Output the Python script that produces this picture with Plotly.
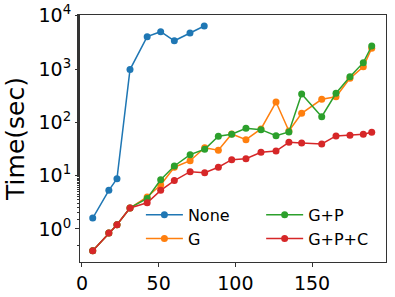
import plotly.graph_objects as go

x_none = [7, 17.5, 22.8, 31.3, 42.5, 51.3, 60.2, 70.4, 79.7]
y_none = [1.6, 5.3, 8.8, 980, 4060, 5030, 3400, 4750, 6430]

x_all = [7, 17.5, 22.8, 31.3, 42.5, 51.3, 60.2, 70.5, 80, 88.9, 97.6, 106.9, 116.7, 126.5, 134.9, 143.2, 156.3, 165.6, 174.7, 183.4, 188.9]
y_g = [0.39, 0.84, 1.2, 2.48, 4.0, 6.7, 14.4, 19.1, 33.5, 30, 60.6, 47.3, 75.2, 241, 69, 148, 271, 303, 671, 1109, 2456]
y_gp = [0.39, 0.84, 1.2, 2.48, 3.73, 8.4, 15.2, 24.8, 31.3, 54.9, 59.8, 77.5, 73, 56.3, 66, 341, 128, 352, 720, 1319, 2713]
y_gpc = [0.39, 0.84, 1.2, 2.48, 3.1, 5.3, 8.1, 11.9, 11.4, 14.4, 20, 20.8, 27.5, 29, 42.3, 41, 39.3, 55.6, 57.3, 59.8, 65.2]

y_tickvals = [1, 10, 100, 1000, 10000]
y_ticktext = ["10<sup>0</sup>", "10<sup>1</sup>", "10<sup>2</sup>", "10<sup>3</sup>", "10<sup>4</sup>"]
x_tickvals = [0, 50, 100, 150]

series = [
    ("None", x_none, y_none, "#1f77b4", "legend"),
    ("G", x_all, y_g, "#ff7f0e", "legend"),
    ("G+P", x_all, y_gp, "#2ca02c", "legend2"),
    ("G+P+C", x_all, y_gpc, "#d62728", "legend2"),
]

fig = go.Figure()
for name, xs, ys, col, lg in series:
    fig.add_trace(go.Scatter(
        x=xs, y=ys, name=name, mode="lines+markers",
        line=dict(color=col, width=1.5),
        marker=dict(color=col, size=7),
        legend=lg,
    ))

font = dict(family="DejaVu Sans", color="black")
leg_common = dict(
    font=dict(family="DejaVu Sans", size=16, color="black"),
    bgcolor="rgba(0,0,0,0)", borderwidth=0,
    xanchor="left", yanchor="top", tracegroupgap=0,
    itemwidth=37,
)
fig.update_layout(
    width=395, height=297,
    margin=dict(l=80, r=9, t=15, b=35),
    paper_bgcolor="white", plot_bgcolor="white",
    font=font,
    legend=dict(x=0.199, y=0.26, **leg_common),
    legend2=dict(x=0.592, y=0.26, **leg_common),
    xaxis=dict(
        range=[-1.3, 198.2], tickvals=x_tickvals, automargin=False,
        showgrid=False, zeroline=False,
        showline=True, mirror=True, linecolor="#333", linewidth=1,
        ticks="outside", ticklen=4, tickcolor="#333",
        tickfont=dict(family="DejaVu Sans", size=19, color="black"),
    ),
    yaxis=dict(
        type="log", range=[-0.62, 4.015], automargin=False,
        tickvals=y_tickvals, ticktext=y_ticktext,
        showgrid=False, zeroline=False,
        showline=True, mirror=True, linecolor="#333", linewidth=1,
        ticks="outside", ticklen=4, tickcolor="#333",
        minor=dict(ticks="outside", ticklen=2.5, tickcolor="#333", showgrid=False),
        tickfont=dict(family="DejaVu Sans", size=19, color="black"),
        title=dict(text="Time(sec)", font=dict(family="DejaVu Sans", size=25, color="black"), standoff=6),
    ),
)
fig.write_html(
    "out.html",
    config={"displayModeBar": False},
    post_script="document.body.style.margin='0';document.body.style.padding='0';document.body.style.overflow='hidden';",
)
